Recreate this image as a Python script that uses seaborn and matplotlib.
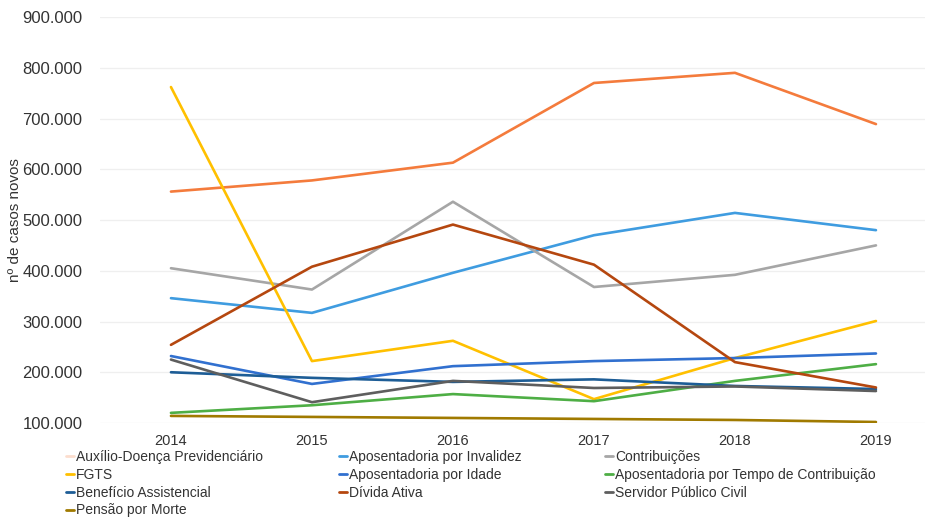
import pandas as pd
import matplotlib
matplotlib.use("Agg")
import matplotlib.pyplot as plt
from matplotlib.lines import Line2D
from matplotlib.ticker import FuncFormatter
import seaborn as sns

# dados (nº de casos novos)
anos = ["2014", "2015", "2016", "2017", "2018", "2019"]
series = [
    "Auxílio-Doença Previdenciário",
    "Aposentadoria por Invalidez",
    "Contribuições",
    "FGTS",
    "Aposentadoria por Idade",
    "Aposentadoria por Tempo de Contribuição",
    "Benefício Assistencial",
    "Dívida Ativa",
    "Servidor Público Civil",
    "Pensão por Morte",
]
auxilio_doenca = [556000, 578000, 613000, 770000, 790000, 689000]
invalidez = [346000, 317000, 396000, 470000, 514000, 480000]
contribuicoes = [405000, 363000, 536000, 368000, 392000, 450000]
fgts = [762000, 222000, 262000, 147000, 228000, 301000]
idade = [232000, 177000, 212000, 222000, 228000, 237000]
tempo_contrib = [120000, 135000, 157000, 143000, 183000, 216000]
beneficio = [200000, 189000, 181000, 186000, 173000, 167000]
divida_ativa = [254000, 408000, 491000, 412000, 220000, 170000]
servidor = [225000, 141000, 183000, 169000, 172000, 163000]
pensao = [114000, 112000, 110000, 108000, 106000, 102000]

valores = [auxilio_doenca, invalidez, contribuicoes, fgts, idade,
           tempo_contrib, beneficio, divida_ativa, servidor, pensao]

cores = ["#F47B3C", "#3F9CE0", "#A6A6A6", "#FFC000", "#3170CF",
         "#4EAE45", "#1D5D96", "#B5470F", "#5E5E5E", "#A07A00"]
paleta = dict(zip(series, cores))

linhas = []
for nome, vals in zip(series, valores):
    for i, v in enumerate(vals):
        linhas.append({"Ano": i, "Casos": v, "Série": nome})
df = pd.DataFrame(linhas)

sns.set_theme(style="white")
plt.rcParams["font.family"] = ["Liberation Sans", "DejaVu Sans"]

fig = plt.figure(figsize=(9.25, 5.17), dpi=100)
ax = fig.add_axes([0.1086, 0.1818, 0.9146, 0.7853])

sns.lineplot(data=df, x="Ano", y="Casos", hue="Série", hue_order=series,
             palette=paleta, linewidth=1.9, legend=False, ax=ax)

ax.set_xlim(-0.5, 5.5)
ax.set_ylim(100000, 900000)
ax.set_xticks(range(len(anos)))
ax.set_xticklabels(anos)
ax.set_yticks(range(100000, 900001, 100000))
ax.yaxis.set_major_formatter(FuncFormatter(lambda v, p: f"{int(v):,}".replace(",", ".")))
ax.tick_params(axis="y", labelsize=12, colors="#333333", pad=13, length=0)
ax.tick_params(axis="x", labelsize=10.5, colors="#333333", pad=8, length=0)
ax.grid(axis="y", color="#EFEFEF", linewidth=0.9)
for s in ax.spines.values():
    s.set_visible(False)
ax.set_xlabel("")
ax.set_ylabel("nº de casos novos", fontsize=11, color="#333333")
ax.yaxis.set_label_coords(-0.093, 0.5)

# legenda em três colunas, ordem por linha
handles = [Line2D([], [], color=c, linewidth=2.0) for c in cores]
handles[0].set_alpha(0.25)
posx = [0.071, 0.366, 0.654]
for col in range(3):
    idx = list(range(col, len(series), 3))
    leg = fig.legend([handles[i] for i in idx], [series[i] for i in idx],
                     loc="upper left", bbox_to_anchor=(posx[col], 0.130),
                     frameon=False, fontsize=10, handlelength=0.6,
                     handletextpad=0.15, labelspacing=0.28, borderpad=0,
                     borderaxespad=0)
    for t in leg.get_texts():
        t.set_color("#333333")

fig.savefig("out.png", dpi=100)
